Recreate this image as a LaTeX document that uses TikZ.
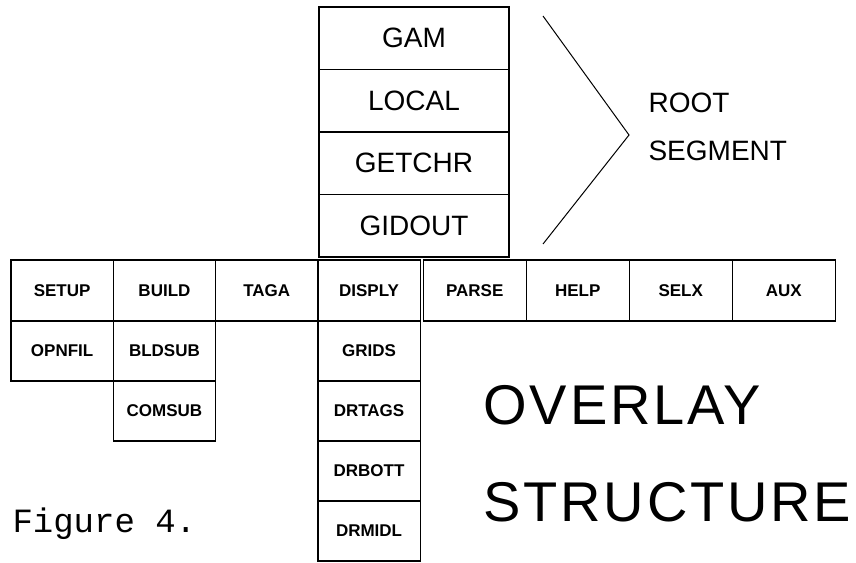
\documentclass[tikz,border=0pt]{standalone}
\usepackage{fontspec}
\setmainfont{Liberation Sans}
\newfontfamily\plotmono{Liberation Mono}
\newfontfamily\plotwide[LetterSpace=5]{Liberation Sans}
\usepackage{tikz}
\usetikzlibrary{positioning}

\begin{document}
\begin{tikzpicture}[x=1pt, y=-1pt,
    rootbox/.style={draw, line width=1.2pt, outer sep=0pt, inner sep=0pt,
      minimum width=190pt, minimum height=62.5pt, font=\fontsize{28}{30}\selectfont},
    segbox/.style={draw, line width=1.2pt, outer sep=0pt, inner sep=0pt,
      minimum width=102.3pt, minimum height=61pt, font=\fontsize{17}{19}\selectfont\bfseries},
    subbox/.style={segbox, minimum height=60pt}]
                \useasboundingbox (0,0) rectangle (856,562);

                % Root segment
                \node[rootbox] (gam) at (414,38.25) {GAM};
                \node[rootbox, below=0pt of gam] (local) {LOCAL};
                \node[rootbox, below=0pt of local] (getchr) {GETCHR};
                \node[rootbox, below=0pt of getchr] (gidout) {GIDOUT};

                % Brace
                \coordinate (chevtop) at (543,16);
                \coordinate (chevtip) at (629,135);
                \coordinate (chevbot) at (543,244);
                \draw[line width=1pt] (chevtop) -- (chevtip) -- (chevbot);
                \node[anchor=west, font=\fontsize{28}{30}\selectfont] (root) at (645,103) {ROOT};
                \node[anchor=west, font=\fontsize{28}{30}\selectfont] (segment) at (645,151) {SEGMENT};

                % Overlay segments
                \node[segbox] (setup) at (62.15,290.5) {SETUP};
                \node[segbox, right=0pt of setup] (build) {BUILD};
                \node[segbox, right=0pt of build] (taga) {TAGA};
                \node[segbox, right=0pt of taga] (disply) {DISPLY};
                \node[segbox, minimum width=103pt, right=3pt of disply] (parse) {PARSE};
                \node[segbox, minimum width=103pt, right=0pt of parse] (help) {HELP};
                \node[segbox, minimum width=103pt, right=0pt of help] (selx) {SELX};
                \node[segbox, minimum width=103pt, right=0pt of selx] (aux) {AUX};

                % Sub-overlays
                \node[subbox, below=0pt of setup] (opnfil) {OPNFIL};
                \node[subbox, below=0pt of build] (bldsub) {BLDSUB};
                \node[subbox, below=0pt of bldsub] (comsub) {COMSUB};
                \node[subbox, below=0pt of disply] (grids) {GRIDS};
                \node[subbox, below=0pt of grids] (drtags) {DRTAGS};
                \node[subbox, below=0pt of drtags] (drbott) {DRBOTT};
                \node[subbox, below=0pt of drbott] (drmidl) {DRMIDL};

                % Titles
                \node[anchor=west, font=\plotwide\fontsize{56}{60}\selectfont] (overlay) at (480,405) {OVERLAY};
                \node[anchor=west, font=\plotwide\fontsize{56}{60}\selectfont] (structure) at (480,502) {STRUCTURE};
                \node[anchor=base west, font=\plotmono\fontsize{34}{36}\selectfont] (figure) at (9,532) {Figure 4.};
            \end{tikzpicture}
\end{document}
